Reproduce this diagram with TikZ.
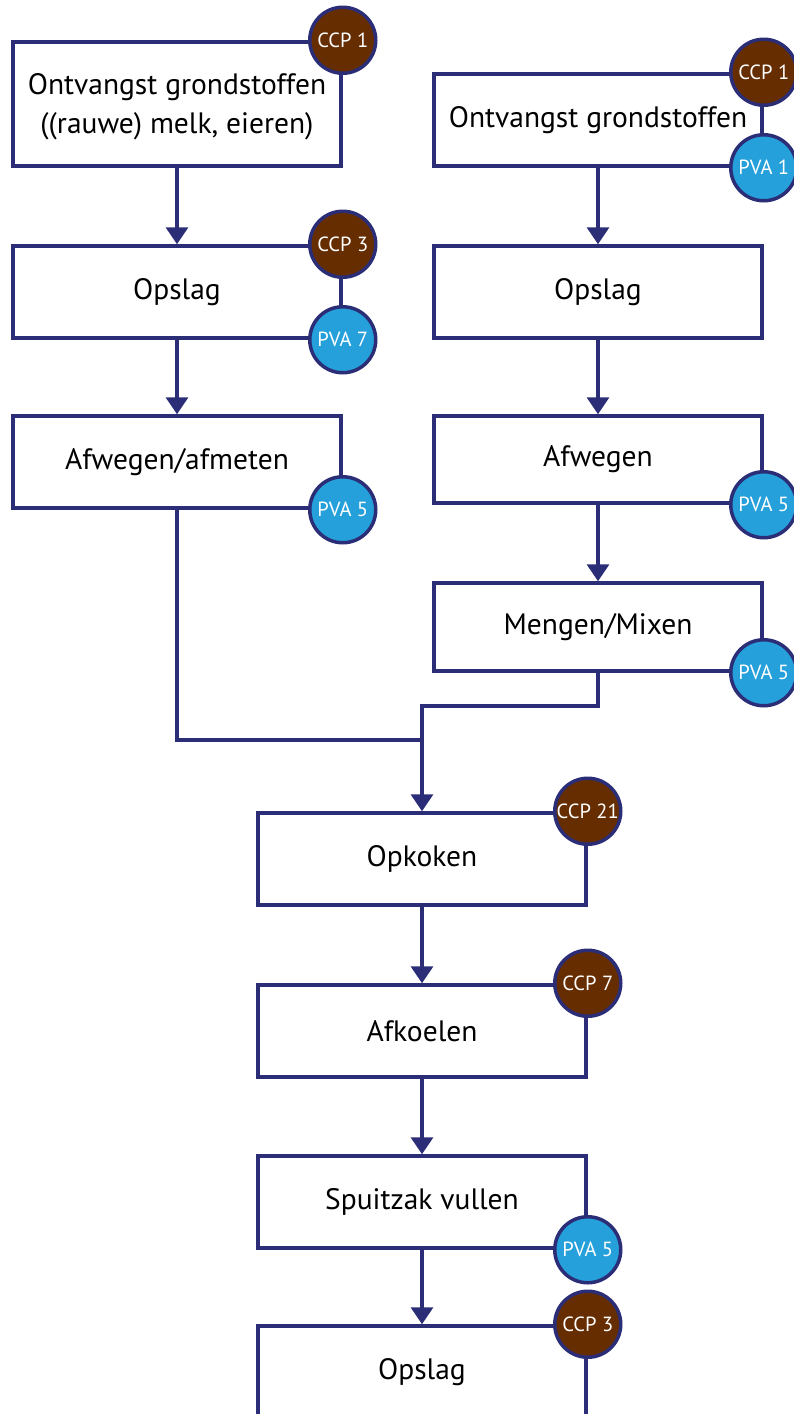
\documentclass[tikz,border=0pt]{standalone}
\usepackage{fontspec}
\setmainfont{PT Sans}
\usetikzlibrary{arrows.meta, positioning}

\definecolor{lijnblauw}{HTML}{2B2E77}
\definecolor{ccpbruin}{HTML}{662D00}
\definecolor{pvablauw}{HTML}{25A0DA}

\tikzset{
  stap/.style={draw=lijnblauw, line width=3.5pt, fill=white,
    minimum width=328pt, minimum height=92pt, align=center,
    font=\fontsize{29.5}{39}\selectfont},
  ccp/.style={circle, draw=lijnblauw, line width=3.5pt, fill=ccpbruin,
    minimum size=66pt, inner sep=0pt, text=white,
    font=\fontsize{20.5}{24}\selectfont},
  pva/.style={ccp, fill=pvablauw},
  lijn/.style={draw=lijnblauw, line width=3.5pt},
  pijl/.style={lijn, -{Triangle[length=17pt,width=22pt]}}
}

\begin{document}
\begin{tikzpicture}[x=1pt, y=-1pt]
  \useasboundingbox (0,0) rectangle (794,1414);

  % linker kolom
  \node[stap, minimum height=124pt] (a1) at (177,104) {\\[-12pt]Ontvangst grondstoffen\\((rauwe) melk, eieren)};
  \node[stap] (a2) at (177,292) {Opslag};
  \node[stap] (a3) at (177,462) {Afwegen/afmeten};

  % rechter kolom
  \node[stap] (b1) at (598,120) {Ontvangst grondstoffen};
  \node[stap] (b2) at (598,292) {Opslag};
  \node[stap, minimum height=87pt] (b3) at (598,459.5) {Afwegen};
  \node[stap, minimum height=88pt] (b4) at (598,627) {Mengen/Mixen};

  % gezamenlijk
  \node[stap] (c1) at (422,859) {Opkoken};
  \node[stap] (c2) at (422,1031) {Afkoelen};
  \node[stap] (c3) at (422,1202) {Spuitzak vullen};
  \node[stap] (c4) at (422,1372) {Opslag};

  \coordinate (samen) at (422,740);
  \coordinate (knik) at (422,706);

  % pijlen
  \draw[pijl] (a1.south) -- (a2.north);
  \draw[pijl] (a2.south) -- (a3.north);
  \draw[pijl] (b1.south) -- (b2.north);
  \draw[pijl] (b2.south) -- (b3.north);
  \draw[pijl] (b3.south) -- (b4.north);
  \draw[lijn] (a3.south) |- (samen);
  \draw[pijl] (b4.south) |- (knik) -- (c1.north);
  \draw[pijl] (c1.south) -- (c2.north);
  \draw[pijl] (c2.south) -- (c3.north);
  \draw[pijl] (c3.south) -- (c4.north);

  % CCP en PVA
  \node[ccp] (ccpa1) at (a1.north east) {CCP 1};
  \node[ccp] (ccpa2) at (a2.north east) {CCP 3};
  \node[pva] (pvaa2) at (a2.south east) {PVA 7};
  \node[pva] (pvaa3) at (a3.south east) {PVA 5};
  \node[ccp] (ccpb1) at (b1.north east) {CCP 1};
  \node[pva] (pvab1) at (b1.south east) {PVA 1};
  \node[pva] (pvab3) at (b3.south east) {PVA 5};
  \node[pva] (pvab4) at (b4.south east) {PVA 5};
  \node[ccp] (ccpc1) at (c1.north east) {CCP 21};
  \node[ccp] (ccpc2) at (c2.north east) {CCP 7};
  \node[pva] (pvac3) at (c3.south east) {PVA 5};
  \node[ccp] (ccpc4) at (c4.north east) {CCP 3};
\end{tikzpicture}
\end{document}
